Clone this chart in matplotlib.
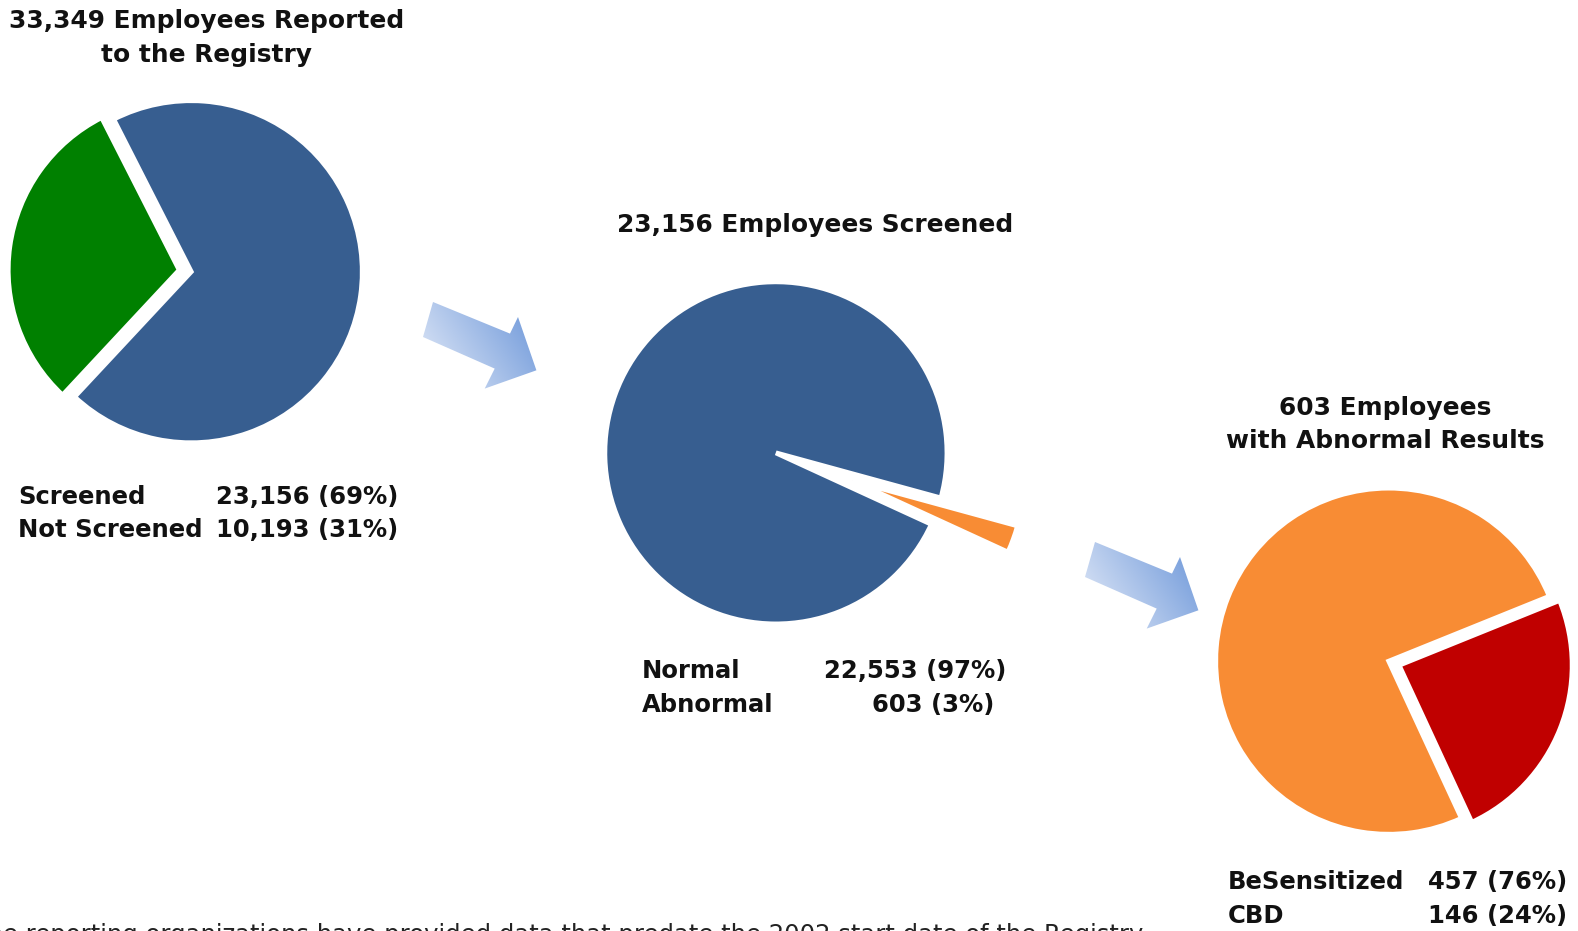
import numpy as np
import matplotlib
matplotlib.use("Agg")
import matplotlib.pyplot as plt
from matplotlib.patches import Polygon

# ---------------- data ----------------
pie1_labels = ["Screened", "Not Screened"]
pie1_values = [23156, 10193]
pie1_value_text = ["23,156 (69%)", "10,193 (31%)"]
pie1_title = ["33,349 Employees Reported", "to the Registry"]

pie2_labels = ["Normal", "Abnormal"]
pie2_values = [22553, 603]
pie2_value_text = ["22,553 (97%)", "603 (3%)"]
pie2_title = ["23,156 Employees Screened"]

pie3_labels = ["BeSensitized", "CBD"]
pie3_values = [457, 146]
pie3_value_text = ["457 (76%)", "146 (24%)"]
pie3_title = ["603 Employees", "with Abnormal Results"]

footnote = "Some reporting organizations have provided data that predate the 2002 start date of the Registry."

# ---------------- styling ----------------
W, H = 1578, 931
S = 1578 / 1568  # layout measured on the 1568-wide preview
BLUE = "#375E90"
GREEN = "#008000"
ORANGE = "#F88C34"
RED = "#C00000"
FONT = "DejaVu Sans"
TSIZE = 17.9
LSIZE = 17.5

fig = plt.figure(figsize=(W / 100, H / 100), dpi=100)
ax = fig.add_axes([0, 0, 1, 1])


def Y(py):
    return H - py


def pie(values, colors, center, radius, start, explode):
    ax.pie(values, colors=colors, center=(center[0] * S, Y(center[1] * S)), radius=radius * S,
           startangle=start, counterclock=True, explode=[e * S for e in explode], frame=True,
           wedgeprops=dict(edgecolor="white", linewidth=3.5))


pie(pie1_values, [BLUE, GREEN], (190, 270), 170, 227, [0, 12])
pie(pie2_values, [BLUE, ORANGE], (771, 450), 170, -15.3, [0, 81])
pie(pie3_values, [ORANGE, RED], (1380, 657), 172, 22, [0, 11])


def title(lines, cx, py0, dy=34):
    for i, s in enumerate(lines):
        ax.text(cx * S, Y((py0 + i * dy) * S), s, ha="center", va="center", fontsize=TSIZE,
                fontweight="bold", family=FONT, color="#111111")


title(pie1_title, 205, 21)
title(pie2_title, 810, 224)
title(pie3_title, 1376, 405, 33)


def legend(labels, vals, xl, xr, py0, dy):
    for i, (l, v) in enumerate(zip(labels, vals)):
        y = Y((py0 + i * dy) * S)
        ax.text(xl * S, y, l, ha="left", va="center", fontsize=LSIZE,
                fontweight="bold", family=FONT, color="#111111")
        ax.text(xr[i] * S, y, v, ha="right", va="center", fontsize=LSIZE,
                fontweight="bold", family=FONT, color="#111111")


legend(pie1_labels, pie1_value_text, 18, [396, 396], 494, 33)
legend(pie2_labels, pie2_value_text, 638, [1000, 988], 667, 34)
legend(pie3_labels, pie3_value_text, 1220, [1557, 1557], 876, 34)

ax.text(1148, Y(923), footnote, ha="right", va="top", fontsize=17.5, family=FONT, color="#222222")

# ---------------- gradient arrows ----------------
arrow_shape = np.array([(0, 0), (77, 31.6), (85, 15), (103.4, 68.3), (51.7, 86.6),
                        (61.7, 66.6), (-10, 35)])


def arrow(ox, oy):
    pts = np.array([(ox + x, Y(oy + y)) for x, y in arrow_shape])
    poly = Polygon(pts, closed=True, facecolor="none", edgecolor="none")
    ax.add_patch(poly)
    x0, x1 = pts[:, 0].min() - 2, pts[:, 0].max() + 2
    y0, y1 = pts[:, 1].min() - 2, pts[:, 1].max() + 2
    gx, gy = np.meshgrid(np.linspace(x0, x1, 200), np.linspace(y0, y1, 200))
    ang = np.deg2rad(-24)
    d = np.array([np.cos(ang), np.sin(ang)])
    n = np.array([-np.sin(ang), np.cos(ang)])
    pn = gx * n[0] + gy * n[1]
    pd = gx * d[0] + gy * d[1]
    pn = (pn - pn.min()) / (pn.max() - pn.min())
    pd = (pd - pd.min()) / (pd.max() - pd.min())
    t = np.clip(0.7 * pn + 0.5 * pd - 0.1, 0, 1)
    dark = np.array([100, 145, 215]) / 255
    light = np.array([235, 240, 250]) / 255
    rgb = light[None, None, :] * (1 - t[..., None]) + dark[None, None, :] * t[..., None]
    im = ax.imshow(rgb, extent=[x0, x1, y0, y1], origin="lower", zorder=3,
                   interpolation="bilinear")
    im.set_clip_path(poly)


arrow(433, 302)
arrow(1095, 542)

ax.set_xlim(0, W)
ax.set_ylim(0, H)
ax.set_aspect("auto")
ax.axis("off")
fig.savefig("out.png", dpi=100)
